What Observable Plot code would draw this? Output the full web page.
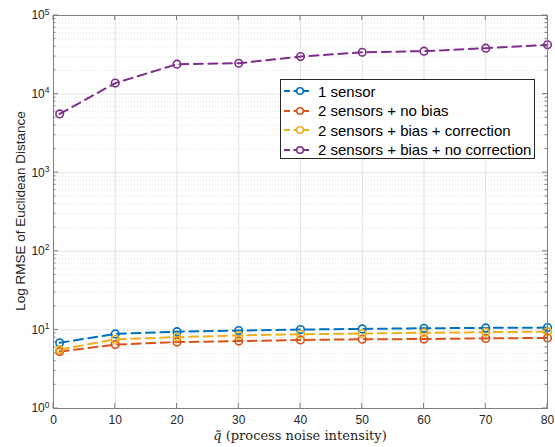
<!DOCTYPE html>
<html><head><meta charset="utf-8">
<script src="https://cdn.jsdelivr.net/npm/d3@7"></script>
<script src="https://cdn.jsdelivr.net/npm/@observablehq/plot@0.6"></script>
<style>
html,body{margin:0;padding:0;background:#fff;}
#wrap{position:relative;width:555px;height:447px;}
#legend{position:absolute;left:280px;top:79px;width:255px;height:80px;background:#fff;border:1px solid #262626;box-sizing:border-box;font-family:"Liberation Sans",Arial,sans-serif;font-size:15px;color:#000;}
#legend .row{position:absolute;left:0;height:20px;display:flex;align-items:center;white-space:nowrap;}
#legend svg{display:block;}
</style></head><body>
<div id="wrap"><div id="legend"></div></div>
<script>
const qValues = [1, 10, 20, 30, 40, 50, 60, 70, 80];
const seriesNames = ["1 sensor", "2 sensors + no bias", "2 sensors + bias + correction", "2 sensors + bias + no correction"];
const oneSensor = [6.85, 8.9, 9.5, 9.8, 10.1, 10.3, 10.5, 10.6, 10.7];
const twoNoBias = [5.3, 6.5, 7.0, 7.2, 7.45, 7.6, 7.65, 7.8, 7.9];
const twoBiasCorr = [5.6, 7.6, 8.1, 8.5, 8.8, 9.0, 9.2, 9.35, 9.5];
const twoBiasNoCorr = [5600, 13800, 24000, 24700, 30000, 34100, 35200, 38400, 42400];
const colors = ["#0072BD", "#D95319", "#EDB120", "#7E2F8E"];
const xTicks = [0, 10, 20, 30, 40, 50, 60, 70, 80];
const yTicks = [1, 10, 100, 1000, 10000, 100000];
const yTickExps = ["0", "1", "2", "3", "4", "5"];

const allSeries = [oneSensor, twoNoBias, twoBiasCorr, twoBiasNoCorr];
const rows = [];
allSeries.forEach((vals, s) => vals.forEach((v, i) => rows.push({q: qValues[i], v, s: seriesNames[s]})));
const minorTicks = [];
for (let k = 0; k < 5; k++) for (let m = 2; m <= 9; m++) minorTicks.push(m * Math.pow(10, k));

const gridC = "#dcdcdc";
const axC = "#262626";
const tickC = "#7f7f7f";
const plot = Plot.plot({
  width: 555, height: 447,
  marginLeft: 53, marginRight: 8, marginTop: 15, marginBottom: 39,
  style: {fontFamily: "'Liberation Sans', Arial, sans-serif", fontSize: "12px", color: axC, background: "white"},
  x: {domain: [0, 80]},
  y: {type: "log", domain: [1, 100000]},
  color: {domain: seriesNames, range: colors},
  marks: [
    Plot.ruleY(minorTicks, {stroke: gridC, strokeDasharray: "1,2", strokeWidth: 0.8}),
    Plot.ruleY(yTicks, {stroke: gridC, strokeWidth: 0.8}),
    Plot.ruleX(xTicks, {stroke: gridC, strokeWidth: 0.8}),
    Plot.line(rows, {x: "q", y: "v", z: "s", stroke: "s", strokeWidth: 2, strokeDasharray: "9,5.5"}),
    Plot.dot(rows, {x: "q", y: "v", stroke: "s", r: 3.8, strokeWidth: 1.6, fill: "none"}),
    Plot.frame({stroke: tickC, strokeWidth: 1}),
    Plot.axisX({ticks: xTicks, tickSize: 0, tickPadding: 7, label: null, fontSize: 12}),
    Plot.axisY({ticks: yTicks, tickSize: 0, tickPadding: 4, tickFormat: () => "10", label: null, fontSize: 12})
  ]
});
document.getElementById("wrap").prepend(plot);

const svg = d3.select(plot);
// superscripts on y tick labels
svg.selectAll("g[aria-label='y-axis tick label'] text").each(function(d, i) {
  const t = d3.select(this);
  t.text("10");
  t.append("tspan").attr("dy", "-0.55em").attr("font-size", "8.5px").text(yTickExps[i]);
});

// inward ticks on all four sides, positioned via the plot's scales
const sx = plot.scale("x"), sy = plot.scale("y");
const xs = v => (v - sx.domain[0]) / (sx.domain[1] - sx.domain[0]) * (sx.range[1] - sx.range[0]) + sx.range[0];
const ys = v => (Math.log10(v) - Math.log10(sy.domain[0])) / (Math.log10(sy.domain[1]) - Math.log10(sy.domain[0])) * (sy.range[1] - sy.range[0]) + sy.range[0];
const gT = svg.append("g").attr("stroke", tickC).attr("stroke-width", 1);
const xl = sx.range[0], xr = sx.range[1];
const yb = sy.range[0], yt = sy.range[1];
xTicks.forEach(v => { const x = xs(v);
  gT.append("line").attr("x1", x).attr("x2", x).attr("y1", yb).attr("y2", yb - 5);
  gT.append("line").attr("x1", x).attr("x2", x).attr("y1", yt).attr("y2", yt + 5); });
yTicks.forEach(v => { const y = ys(v);
  gT.append("line").attr("x1", xl).attr("x2", xl + 5).attr("y1", y).attr("y2", y);
  gT.append("line").attr("x1", xr - 5).attr("x2", xr).attr("y1", y).attr("y2", y); });
minorTicks.forEach(v => { const y = ys(v);
  gT.append("line").attr("x1", xl).attr("x2", xl + 2.5).attr("y1", y).attr("y2", y);
  gT.append("line").attr("x1", xr - 2.5).attr("x2", xr).attr("y1", y).attr("y2", y); });

// axis titles
svg.append("text").attr("x", 300).attr("y", 440).attr("text-anchor", "middle")
  .attr("font-family", "'DejaVu Serif', 'Liberation Serif', serif").attr("font-size", "13px").attr("fill", axC)
  .html("<tspan font-style='italic'>q̃</tspan> (process noise intensity)");
svg.append("text").attr("transform", "translate(25,211) rotate(-90)").attr("text-anchor", "middle")
  .attr("font-family", "'Liberation Sans', Arial, sans-serif").attr("font-size", "13.5px").attr("fill", axC)
  .text("Log RMSE of Euclidean Distance");

// legend
const leg = d3.select("#legend");
seriesNames.forEach((name, i) => {
  const row = leg.append("div").attr("class", "row").style("top", (1 + i * 19.5) + "px");
  const s = row.append("svg").attr("width", 37).attr("height", 20);
  s.append("line").attr("x1", 3).attr("x2", 28).attr("y1", 10).attr("y2", 10).attr("stroke", colors[i]).attr("stroke-width", 2).attr("stroke-dasharray", "6,3.5");
  s.append("circle").attr("cx", 19).attr("cy", 10).attr("r", 3.3).attr("fill", "white").attr("stroke", colors[i]).attr("stroke-width", 1.6);
  row.append("span").text(name);
});
</script>
</body></html>
